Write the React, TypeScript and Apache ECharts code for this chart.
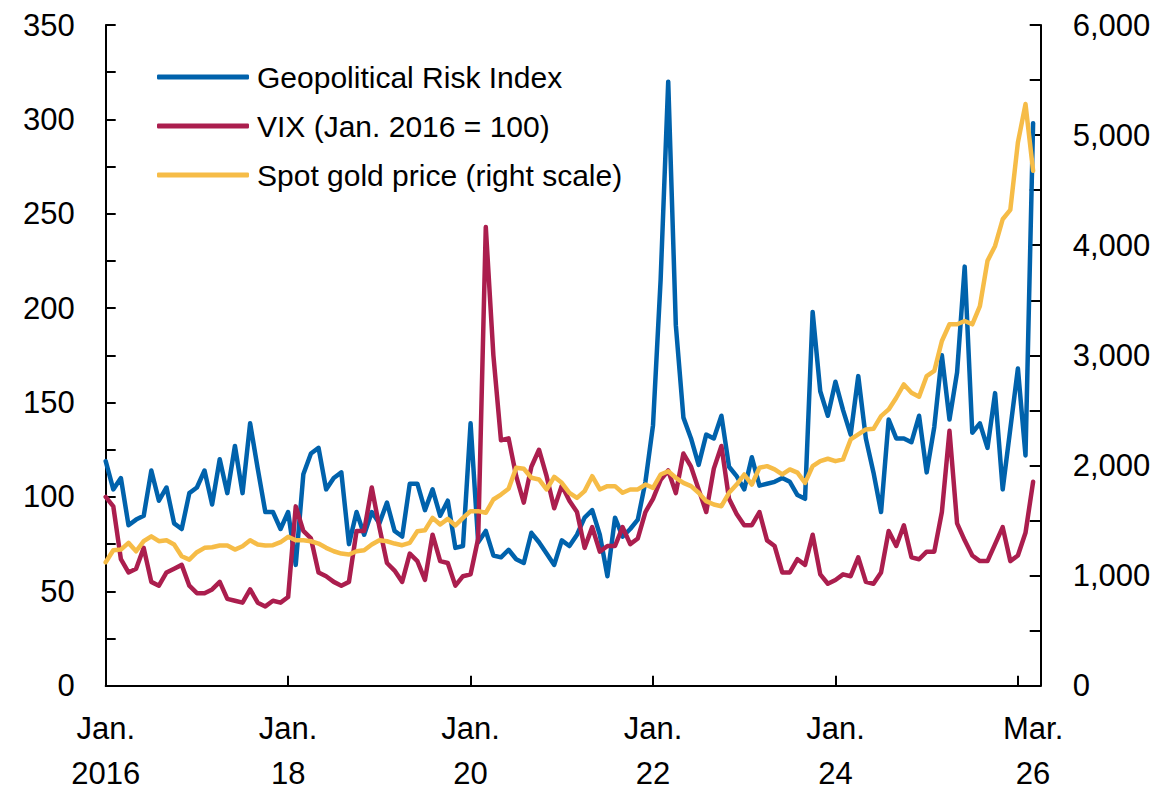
import React, { useEffect, useRef } from "react";
import * as echarts from "echarts";

// Monthly observations, Jan. 2016 (index 0) to Mar. 2026 (index 122)
const gprIndex = [
  119, 104, 110, 85, 88, 90, 114, 98, 105, 86, 83, 102,
  105, 114, 96, 120, 102, 127, 102, 139, 115, 92, 92, 83,
  92, 64, 112, 123, 126, 104, 110, 113, 75, 92, 80, 92,
  86, 97, 82, 79, 107, 107, 93, 104, 90, 98, 73, 74,
  139, 76, 82, 69, 68, 72, 67, 65, 81, 76, 70, 64,
  77, 74, 80, 89, 93, 80, 58, 89, 79, 83, 88, 108,
  138, 215, 320, 191, 142, 131, 117, 133, 131, 143, 116, 111,
  104, 121, 106, 107, 108, 110, 108, 101, 99, 198, 156, 143,
  161, 146, 133, 164, 131, 113, 92, 141, 131, 131, 129, 143,
  113, 137, 175, 141, 166, 222, 134, 139, 126, 155, 104, 136,
  168, 122, 298,
];

const vixIndex = [
  100, 95, 67, 60, 62, 73, 55, 53, 60, 62, 64, 53,
  49, 49, 51, 55, 46, 45, 44, 51, 44, 42, 45, 44,
  47, 95, 82, 78, 60, 58, 55, 53, 55, 82, 82, 105,
  84, 65, 61, 55, 70, 66, 56, 80, 66, 65, 53, 58,
  59, 78, 243, 175, 130, 131, 111, 97, 116, 125, 111, 94,
  106, 98, 92, 73, 84, 71, 74, 74, 84, 75, 78, 92,
  99, 109, 114, 102, 123, 116, 104, 92, 115, 127, 99, 91,
  85, 85, 92, 77, 74, 60, 60, 67, 64, 80, 59, 54,
  56, 59, 58, 68, 55, 54, 60, 82, 74, 85, 68, 67,
  71, 71, 92, 135, 86, 77, 69, 66, 66, 75, 84, 66,
  69, 81, 108,
];

const goldPrice = [
  1121, 1230, 1236, 1297, 1221, 1312, 1357, 1312, 1321, 1282, 1176, 1145,
  1212, 1252, 1257, 1273, 1273, 1236, 1267, 1321, 1282, 1273, 1276, 1303,
  1352, 1321, 1321, 1312, 1291, 1252, 1221, 1200, 1191, 1221, 1230, 1282,
  1321, 1312, 1291, 1276, 1297, 1403, 1412, 1524, 1464, 1515, 1455, 1524,
  1585, 1585, 1570, 1691, 1736, 1788, 1979, 1970, 1888, 1873, 1782, 1897,
  1842, 1752, 1706, 1767, 1903, 1782, 1812, 1812, 1752, 1782, 1782, 1827,
  1797, 1918, 1948, 1888, 1842, 1812, 1752, 1676, 1645, 1630, 1752, 1827,
  1918, 1827, 1979, 1994, 1964, 1918, 1964, 1935, 1842, 1994, 2039, 2061,
  2039, 2055, 2236, 2282, 2327, 2333, 2448, 2509, 2615, 2736, 2661, 2624,
  2812, 2858, 3130, 3282, 3282, 3312, 3282, 3448, 3858, 3994, 4236, 4321,
  4933, 5282, 4676,
];

const seriesNames = [
  "Geopolitical Risk Index",
  "VIX (Jan. 2016 = 100)",
  "Spot gold price (right scale)",
];
const seriesColors = ["#0062AC", "#AB1E4E", "#F6BC47"];

const xTickMonths = [0, 24, 48, 72, 96, 120];
const xLabelMonths = [0, 24, 48, 72, 96, 122];
const xLabelTexts = ["Jan.\n2016", "Jan.\n18", "Jan.\n20", "Jan.\n22", "Jan.\n24", "Mar.\n26"];

const leftTicks = { min: 0, max: 350, minor: 25, major: 50 };
const rightTicks = { min: 0, max: 6000, minor: 500, major: 1000 };

const labelFont = "'Liberation Sans', Arial, sans-serif";

export default function App() {
  const ref = useRef<HTMLDivElement>(null);

  useEffect(() => {
    if (!ref.current) return;
    const chart = echarts.init(ref.current, null, { renderer: "svg" });
    const black = "#000";
    const axisLine = { show: true, lineStyle: { color: black, width: 2 } };
    const tickStyle = { color: black, width: 2 };
    const labelBase = { color: black, fontSize: 31, fontFamily: labelFont };

    const makeSeries = (k: number, values: number[], yAxisIndex: number) => ({
      name: seriesNames[k],
      type: "line",
      yAxisIndex,
      symbol: "none",
      color: seriesColors[k],
      lineStyle: { width: 4.5, color: seriesColors[k], join: "round", cap: "round" },
      data: values.map((v, i) => [i, v]),
    });

    const option: any = {
      animation: false,
      backgroundColor: "#fff",
      grid: { left: 105.7, right: 112.3, top: 25, bottom: 104.3, containLabel: false, outerBoundsMode: "none" },
      legend: {
        orient: "vertical",
        left: 157,
        top: 62,
        padding: 0,
        icon: "roundRect",
        itemWidth: 92,
        itemHeight: 5,
        itemGap: 19,
        data: seriesNames,
        textStyle: { fontSize: 30, lineHeight: 30, color: black, fontFamily: labelFont, padding: [0, 0, 0, 3] },
      },
      xAxis: {
        type: "value",
        min: 0,
        max: 123,
        interval: 24,
        axisLine,
        splitLine: { show: false },
        axisTick: { show: true, inside: true, length: 10, customValues: xTickMonths, lineStyle: tickStyle },
        axisLabel: {
          ...labelBase,
          customValues: xLabelMonths,
          lineHeight: 45,
          margin: 20,
          formatter: (v: number) => {
            const k = xLabelMonths.indexOf(v);
            return k >= 0 ? xLabelTexts[k] : "";
          },
        },
      },
      yAxis: [
        {
          type: "value",
          position: "left",
          min: leftTicks.min,
          max: leftTicks.max,
          interval: leftTicks.minor,
          axisLine,
          splitLine: { show: false },
          axisTick: { show: true, inside: true, length: 10, lineStyle: tickStyle },
          axisLabel: {
            ...labelBase,
            margin: 31,
            formatter: (v: number) => (v % leftTicks.major === 0 ? String(v) : ""),
          },
        },
        {
          type: "value",
          position: "right",
          min: rightTicks.min,
          max: rightTicks.max,
          interval: rightTicks.minor,
          axisLine,
          splitLine: { show: false },
          axisTick: { show: true, inside: true, length: 11, lineStyle: tickStyle },
          axisLabel: {
            ...labelBase,
            margin: 32,
            formatter: (v: number) => (v % rightTicks.major === 0 ? v.toLocaleString("en-US") : ""),
          },
        },
      ],
      series: [
        makeSeries(0, gprIndex, 0),
        makeSeries(1, vixIndex, 0),
        makeSeries(2, goldPrice, 1),
      ],
    };
    chart.setOption(option);
    return () => chart.dispose();
  }, []);

  return (
    <div
      ref={ref}
      style={{ position: "absolute", left: 0, top: 0, width: 1153, height: 790, background: "#fff" }}
    />
  );
}
